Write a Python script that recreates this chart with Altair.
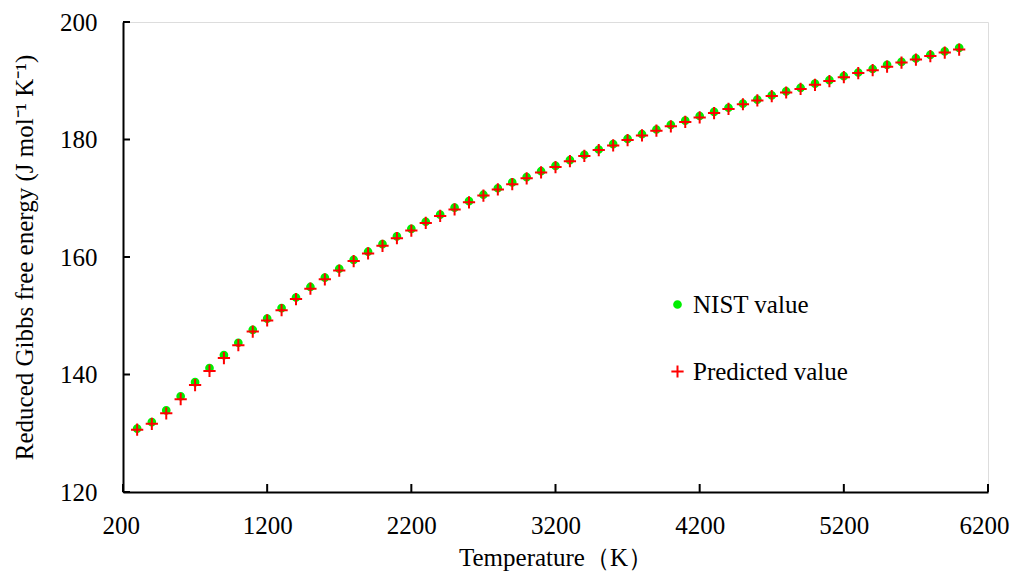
import altair as alt
import pandas as pd

temps = [298.15, 400, 500, 600, 700, 800, 900, 1000, 1100, 1200, 1300, 1400, 1500,
         1600, 1700, 1800, 1900, 2000, 2100, 2200, 2300, 2400, 2500, 2600, 2700,
         2800, 2900, 3000, 3100, 3200, 3300, 3400, 3500, 3600, 3700, 3800, 3900,
         4000, 4100, 4200, 4300, 4400, 4500, 4600, 4700, 4800, 4900, 5000, 5100,
         5200, 5300, 5400, 5500, 5600, 5700, 5800, 5900, 6000]

nist_values = [130.8, 131.9, 133.9, 136.3, 138.7, 141.1, 143.3, 145.4, 147.6, 149.5,
               151.3, 153.1, 154.9, 156.5, 158.0, 159.5, 160.9, 162.2, 163.5, 164.8,
               166.0, 167.2, 168.4, 169.5, 170.6, 171.7, 172.7, 173.6, 174.6, 175.5,
               176.5, 177.4, 178.3, 179.2, 180.1, 180.9, 181.7, 182.5, 183.2, 184.0,
               184.7, 185.4, 186.1, 186.8, 187.5, 188.2, 188.8, 189.5, 190.1, 190.8,
               191.4, 192.0, 192.7, 193.2, 193.8, 194.4, 195.0, 195.6]

predicted_values = [130.6, 131.6, 133.4, 135.8, 138.2, 140.6, 142.8, 145.0, 147.3, 149.2,
                    150.95, 152.85, 154.6, 156.2, 157.7, 159.3, 160.6, 161.9, 163.2, 164.5,
                    165.8, 167.0, 168.1, 169.3, 170.45, 171.5, 172.4, 173.4, 174.4, 175.3,
                    176.3, 177.2, 178.2, 179.0, 179.9, 180.7, 181.5, 182.25, 183.0, 183.75,
                    184.5, 185.2, 186.0, 186.65, 187.4, 188.0, 188.6, 189.3, 189.95, 190.6,
                    191.3, 191.8, 192.4, 193.1, 193.6, 194.2, 194.8, 195.3]

series_names = ["NIST value", "Predicted value"]
x_ticks = [200, 1200, 2200, 3200, 4200, 5200, 6200]
y_ticks = [120, 140, 160, 180, 200]

FONT = "Liberation Serif"
FS = 25
W, H = 865, 470

rows = []
for t, v in zip(temps, nist_values):
    rows.append({"T": t, "G": v, "series": series_names[0]})
for t, v in zip(temps, predicted_values):
    rows.append({"T": t, "G": v, "series": series_names[1]})
df = pd.DataFrame(rows)
df["order"] = range(len(df))

x_scale = alt.Scale(domain=[200, 6200], nice=False, zero=False)
y_scale = alt.Scale(domain=[120, 200], nice=False, zero=False)

x_axis = alt.Axis(values=x_ticks, format="d", title="Temperature（K）", grid=False, ticks=False,
                  labelFont=FONT, labelFontSize=FS, labelColor="black", labelPadding=21,
                  labelFlush=True, labelFlushOffset=21, labelOverlap=False,
                  titleFont=FONT, titleFontSize=FS, titleFontWeight="normal", titleColor="black",
                  titleX=W / 2, titleY=73, titleBaseline="alphabetic", titleAlign="center",
                  domainColor="black", domainWidth=2)
y_axis = alt.Axis(values=y_ticks, format="d", title="Reduced Gibbs free energy (J mol⁻¹ K⁻¹)",
                  grid=False, ticks=False, labelFont=FONT, labelFontSize=FS, labelColor="black",
                  labelPadding=26, labelFlush=False, labelOverlap=False,
                  titleFont=FONT, titleFontSize=FS, titleFontWeight="normal", titleColor="black",
                  titleX=-99, titleY=H / 2, titleAlign="center", titleBaseline="middle",
                  titleAngle=-90, domainColor="black", domainWidth=2)

cross = "M-1,0H1M0,-1V1"
legend = alt.Legend(title=None, orient="none", legendX=542, legendY=270,
                    labelFont=FONT, labelFontSize=FS, labelColor="black", labelOffset=3,
                    rowPadding=41, symbolStrokeWidth=2)

points = alt.Chart(df).mark_point(strokeWidth=2, opacity=1).encode(
    x=alt.X("T:Q", scale=x_scale, axis=x_axis),
    y=alt.Y("G:Q", scale=y_scale, axis=y_axis),
    shape=alt.Shape("series:N", scale=alt.Scale(domain=series_names, range=["circle", cross]), legend=legend),
    stroke=alt.Stroke("series:N", scale=alt.Scale(domain=series_names, range=["#00ee00", "#ff0000"]), legend=legend),
    fill=alt.Fill("series:N", scale=alt.Scale(domain=series_names, range=["#00ee00", "transparent"]), legend=legend),
    size=alt.Size("series:N", scale=alt.Scale(domain=series_names, range=[45, 150]), legend=legend),
    order=alt.Order("order:Q"),
)

xt = alt.Chart(pd.DataFrame({"T": x_ticks})).mark_rule(color="black", strokeWidth=2).encode(
    x=alt.X("T:Q", scale=x_scale), y=alt.value(H), y2=alt.value(H - 8))
yt = alt.Chart(pd.DataFrame({"G": y_ticks})).mark_rule(color="black", strokeWidth=2).encode(
    y=alt.Y("G:Q", scale=y_scale), x=alt.value(0), x2=alt.value(7))

chart = alt.layer(points, xt, yt).properties(
    width=W, height=H,
    autosize=alt.AutoSizeParams(type="none"),
    padding={"left": 115, "top": 14, "right": 22, "bottom": 80},
).configure_view(stroke=None).configure(background="white")

chart.save("out.html", embed_options={"renderer": "svg", "actions": False})
